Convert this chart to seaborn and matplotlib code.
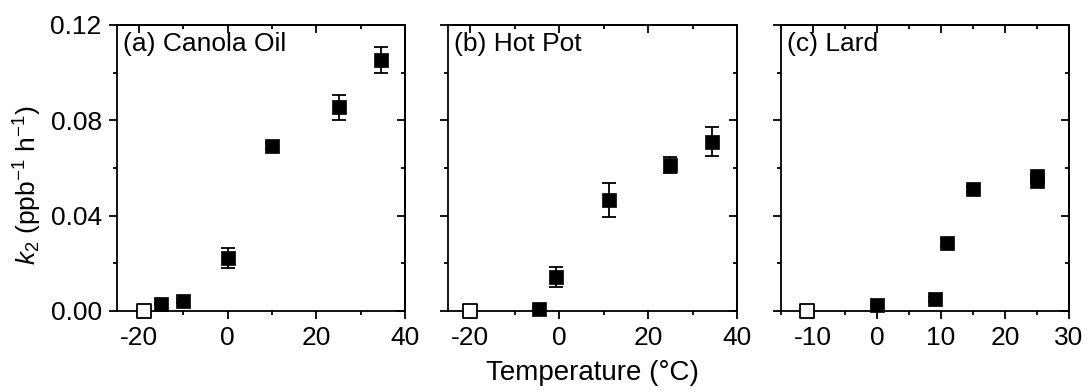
import numpy as np
import pandas as pd
import matplotlib
matplotlib.use("Agg")
import matplotlib.pyplot as plt
import seaborn as sns
from matplotlib.ticker import MultipleLocator, FormatStrFormatter

# Panel (a) Canola Oil
canola_t = [-15, -10, 0, 10, 25, 34.5]
canola_k = [0.0029, 0.0040, 0.0221, 0.0692, 0.0855, 0.1052]
canola_err = [0.0005, 0.0005, 0.0042, 0.0012, 0.0052, 0.0055]
canola_open_t = [-19]
canola_open_k = [0.0]

# Panel (b) Hot Pot
hotpot_t = [-4.5, -0.6, 11.1, 25.0, 34.3]
hotpot_k = [0.0010, 0.0143, 0.0465, 0.0612, 0.0710]
hotpot_err = [0.0005, 0.0043, 0.0071, 0.0035, 0.0060]
hotpot_open_t = [-20]
hotpot_open_k = [0.0]

# Panel (c) Lard
lard_t = [0, 9, 11, 15, 25, 25]
lard_k = [0.0024, 0.0052, 0.0286, 0.0511, 0.0545, 0.0568]
lard_err = [0.0005, 0.0008, 0.0015, 0.0010, 0.0008, 0.0008]
lard_open_t = [-11]
lard_open_k = [0.0]

labels = ["(a) Canola Oil", "(b) Hot Pot", "(c) Lard"]
xlims = [(-25, 40), (-25, 40), (-15, 30)]
xmajor = [20, 20, 10]

sns.set_theme(style="ticks")
plt.rcParams['font.family'] = ['Liberation Sans', 'DejaVu Sans']
plt.rcParams['mathtext.fontset'] = 'custom'
plt.rcParams['mathtext.rm'] = 'Liberation Sans'
plt.rcParams['mathtext.it'] = 'Liberation Sans:italic'
plt.rcParams['axes.unicode_minus'] = False
plt.rcParams['axes.linewidth'] = 1.3
for key in ['text.color', 'axes.labelcolor', 'xtick.color', 'ytick.color', 'axes.edgecolor']:
    plt.rcParams[key] = 'black'

FS = 19
LW = 1.3

fig = plt.figure(figsize=(10.89, 3.92), dpi=100)
lefts = [117, 448, 781]
rights = [405, 737, 1069]
axes = []
for l, r in zip(lefts, rights):
    axes.append(fig.add_axes([l / 1089, 1 - 311 / 392, (r - l) / 1089, (311 - 25) / 392]))

panels = [
    (canola_t, canola_k, canola_err, canola_open_t, canola_open_k),
    (hotpot_t, hotpot_k, hotpot_err, hotpot_open_t, hotpot_open_k),
    (lard_t, lard_k, lard_err, lard_open_t, lard_open_k),
]


def set_ticks(axis_obj, major, minor):
    axis_obj.set_major_locator(MultipleLocator(major))
    axis_obj.set_minor_locator(MultipleLocator(minor))


for i, (ax, (t, k, err, ot, ok)) in enumerate(zip(axes, panels)):
    df = pd.DataFrame({'T': t, 'k': k})
    ax.errorbar(t, k, yerr=err, fmt='none', ecolor='black', elinewidth=LW,
                capsize=5, capthick=LW, zorder=2)
    sns.scatterplot(data=df, x='T', y='k', marker='s', s=115, color='black',
                    edgecolor='black', linewidth=0.5, ax=ax, zorder=3, clip_on=False)
    dfo = pd.DataFrame({'T': ot, 'k': ok})
    sns.scatterplot(data=dfo, x='T', y='k', marker='s', s=100, facecolor='white',
                    edgecolor='black', linewidth=LW, ax=ax, zorder=4, clip_on=False)

    ax.set_xlim(*xlims[i])
    ax.set_ylim(0, 0.12)
    set_ticks(ax.xaxis, xmajor[i], xmajor[i] / 2)
    set_ticks(ax.yaxis, 0.04, 0.02)
    ax.tick_params(axis='both', which='both', labelsize=FS, width=LW, color='black',
                   labelcolor='black', direction='out', top=False, right=False, pad=5)
    ax.tick_params(axis='both', which='major', length=6)
    ax.tick_params(axis='both', which='minor', length=3)

    # top and right: inward ticks, no labels
    sec_x = ax.secondary_xaxis('top')
    set_ticks(sec_x.xaxis, xmajor[i], xmajor[i] / 2)
    sec_x.tick_params(which='both', direction='in', width=LW, labeltop=False)
    sec_x.tick_params(which='major', length=6)
    sec_x.tick_params(which='minor', length=3)
    sec_x.spines['top'].set_linewidth(LW)
    sec_y = ax.secondary_yaxis('right')
    set_ticks(sec_y.yaxis, 0.04, 0.02)
    sec_y.tick_params(which='both', direction='in', width=LW, labelright=False)
    sec_y.tick_params(which='major', length=6)
    sec_y.tick_params(which='minor', length=3)
    sec_y.spines['right'].set_linewidth(LW)

    for s in ax.spines.values():
        s.set_color('black')
        s.set_linewidth(LW)
    ax.set_xlabel('')
    ax.set_ylabel('')
    if i == 0:
        ax.yaxis.set_major_formatter(FormatStrFormatter('%.2f'))
    else:
        ax.set_yticklabels([])
    ax.text(0.02, 0.975, labels[i], transform=ax.transAxes, fontsize=FS,
            ha='left', va='top', color='black')

axes[0].set_ylabel('$k_2$ (ppb$^{-1}$ h$^{-1}$)', fontsize=FS, color='black')
axes[0].yaxis.set_label_coords(-0.255, 0.44)
axes[1].set_xlabel('Temperature (°C)', fontsize=20, labelpad=7, color='black')

fig.savefig('out.png', dpi=100)
